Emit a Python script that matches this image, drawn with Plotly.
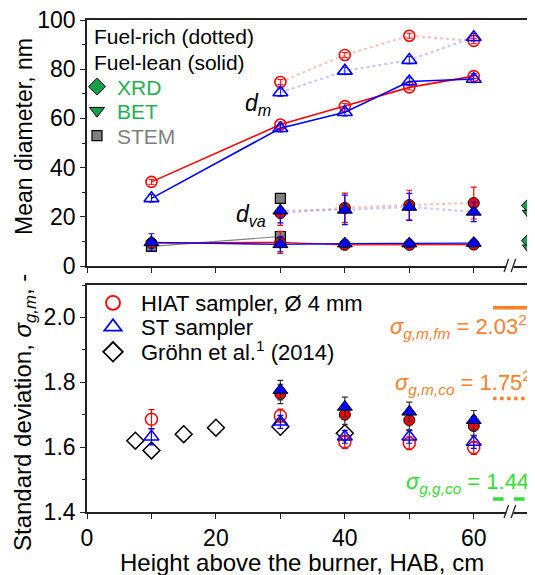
import plotly.graph_objects as go

# ---------------- data ----------------
hab = [10, 30, 40, 50, 60]
hab_rich = [30, 40, 50, 60]

# mean diameter (nm), fuel-lean (solid lines)
dm_lean_hiat = [34.2, 57.5, 65.0, 72.6, 77.2]
dm_lean_st = [27.5, 56.0, 62.5, 75.0, 76.0]
dva_lean_hiat = [9.3, 9.6, 8.6, 8.6, 8.7]
dva_lean_st = [9.6, 8.8, 9.1, 9.1, 9.3]
dva_lean_hiat_err = [1.5, 4.5, 1.5, 1.5, 1.5]
dva_lean_st_err = [3.5, 3.0, 1.5, 1.5, 1.5]

# mean diameter (nm), fuel-rich (dotted lines)
dm_rich_hiat = [74.8, 85.8, 93.6, 91.5]
dm_rich_st = [70.5, 79.3, 83.7, 93.0]
dva_rich_hiat = [21.5, 23.6, 24.8, 25.6]
dva_rich_st = [22.5, 22.8, 24.0, 22.0]
dva_rich_hiat_err = [5.0, 6.0, 6.0, 6.5]
dva_rich_st_err = [5.0, 6.0, 5.5, 4.0]

# STEM
stem_lean_x = [10, 30]
stem_lean = [8.0, 12.0]
stem_rich_x = [30]
stem_rich = [27.5]

# XRD / BET (shown beyond the axis break)
xrd_x = [68.7, 68.7]
xrd = [24.6, 10.3]
bet = [21.3, 7.2]

# geometric standard deviation
sg_hiat = [1.686, 1.697, 1.616, 1.612, 1.598]
sg_hiat_err = [0.03, 0.02, 0.02, 0.02, 0.02]
sg_st = [1.632, 1.678, 1.632, 1.632, 1.616]
sg_st_err = [0.025, 0.02, 0.02, 0.02, 0.02]
sg_hiat_f = [1.764, 1.700, 1.683, 1.665]
sg_st_f = [1.776, 1.724, 1.709, 1.683]
sg_f_err = [0.03, 0.03, 0.03, 0.03]
grohn_x = [7.5, 10, 15, 20, 30, 40]
grohn = [1.620, 1.590, 1.640, 1.660, 1.663, 1.643]

# reference values
ref_x = [63.0, 69.5]
sg_m_fm = 2.03
sg_m_co = 1.75
sg_g_co = 1.44

# tick labels
x_ticks = [0, 20, 40, 60]
top_ticks = [0, 20, 40, 60, 80, 100]
bot_ticks = [1.4, 1.6, 1.8, 2.0]

# ---------------- style ----------------
FONT = "Liberation Sans, Arial, sans-serif"
RED = "#ff0000"
BLUE = "#0000ff"
RED_DOT = "rgba(255,90,90,0.40)"
BLUE_DOT = "rgba(90,90,255,0.35)"
ORANGE = "#ff7f27"
LIME = "#33dd33"
GREEN_TXT = "#1db34f"
GREEN_MK = "#17a04b"
GREY = "#808080"
AX = "#222222"

# the page body has an 8 px margin, so the figure is 8 px smaller in each direction
OFF = 8
W, H = 535 - OFF, 575 - OFF
def PX(p):
    return (p - OFF) / W
def PY(p):
    return 1 - (p - OFF) / H

X_RANGE = [0, 69.5]
BREAK_X = 65.6

fig = go.Figure()

def add(tr):
    fig.add_trace(tr)

# ---- top panel ----
add(go.Scatter(x=hab_rich, y=dm_rich_hiat, mode="lines+markers", xaxis="x", yaxis="y",
               line=dict(color=RED_DOT, width=2, dash="dot"),
               marker=dict(symbol="circle-open", size=11, color=RED, line=dict(width=1.6)),
               error_y=dict(type="constant", value=1.0, color=RED, thickness=1, width=3),
               showlegend=False))
add(go.Scatter(x=hab_rich, y=dm_rich_st, mode="lines+markers", xaxis="x", yaxis="y",
               line=dict(color=BLUE_DOT, width=2, dash="dot"),
               marker=dict(symbol="triangle-up-open", size=13, color=BLUE, line=dict(width=1.6)),
               error_y=dict(type="constant", value=1.5, color=BLUE, thickness=1, width=3),
               showlegend=False))
add(go.Scatter(x=hab, y=dm_lean_hiat, mode="lines+markers", xaxis="x", yaxis="y",
               line=dict(color=RED, width=1.6),
               marker=dict(symbol="circle-open", size=11, color=RED, line=dict(width=1.6)),
               error_y=dict(type="constant", value=1.0, color=RED, thickness=1, width=3),
               showlegend=False))
add(go.Scatter(x=hab, y=dm_lean_st, mode="lines+markers", xaxis="x", yaxis="y",
               line=dict(color=BLUE, width=1.6),
               marker=dict(symbol="triangle-up-open", size=13, color=BLUE, line=dict(width=1.6)),
               error_y=dict(type="constant", value=1.5, color=BLUE, thickness=1, width=3),
               showlegend=False))
add(go.Scatter(x=stem_lean_x, y=stem_lean, mode="lines+markers", xaxis="x", yaxis="y",
               line=dict(color=GREY, width=1.2),
               marker=dict(symbol="square", size=10, color=GREY, line=dict(color="black", width=1.2)),
               showlegend=False))
add(go.Scatter(x=hab_rich, y=dva_rich_hiat, mode="lines+markers", xaxis="x", yaxis="y",
               line=dict(color=RED_DOT, width=2, dash="dot"),
               marker=dict(symbol="circle", size=11, color=RED, line=dict(color="black", width=1)),
               error_y=dict(type="data", array=dva_rich_hiat_err, color=RED, thickness=1.2, width=3),
               showlegend=False))
add(go.Scatter(x=hab_rich, y=dva_rich_st, mode="lines+markers", xaxis="x", yaxis="y",
               line=dict(color=BLUE_DOT, width=2, dash="dot"),
               marker=dict(symbol="triangle-up", size=13, color=BLUE, line=dict(color="black", width=1)),
               error_y=dict(type="data", array=dva_rich_st_err, color=BLUE, thickness=1.2, width=3),
               showlegend=False))
add(go.Scatter(x=hab, y=dva_lean_hiat, mode="lines+markers", xaxis="x", yaxis="y",
               line=dict(color=RED, width=1.4),
               marker=dict(symbol="circle", size=11, color=RED, line=dict(color="black", width=1)),
               error_y=dict(type="data", array=dva_lean_hiat_err, color=RED, thickness=1.2, width=3),
               showlegend=False))
add(go.Scatter(x=hab, y=dva_lean_st, mode="lines+markers", xaxis="x", yaxis="y",
               line=dict(color=BLUE, width=1.4),
               marker=dict(symbol="triangle-up", size=13, color=BLUE, line=dict(color="black", width=1)),
               error_y=dict(type="data", array=dva_lean_st_err, color=BLUE, thickness=1.2, width=3),
               showlegend=False))
add(go.Scatter(x=xrd_x, y=xrd, mode="markers", xaxis="x", yaxis="y", legend="legend",
               name='<span style="color:%s">XRD</span>' % GREEN_TXT,
               marker=dict(symbol="diamond", size=13, color=GREEN_MK, line=dict(color="black", width=1))))
add(go.Scatter(x=xrd_x, y=bet, mode="markers", xaxis="x", yaxis="y", legend="legend2",
               name='<span style="color:%s">BET</span>' % GREEN_TXT,
               marker=dict(symbol="triangle-down", size=13, color=GREEN_MK, line=dict(color="black", width=1))))
add(go.Scatter(x=stem_rich_x, y=stem_rich, mode="markers", xaxis="x", yaxis="y", legend="legend3",
               name='<span style="color:%s">STEM</span>' % GREY,
               marker=dict(symbol="square", size=10, color=GREY, line=dict(color="black", width=1.2))))

# ---- bottom panel ----
add(go.Scatter(x=grohn_x, y=grohn, mode="markers", xaxis="x2", yaxis="y2", showlegend=False,
               marker=dict(symbol="diamond-open", size=13, color="black", line=dict(width=1.5))))
add(go.Scatter(x=hab, y=sg_hiat, mode="markers", xaxis="x2", yaxis="y2", showlegend=False,
               marker=dict(symbol="circle-open", size=12, color=RED, line=dict(width=1.5)),
               error_y=dict(type="data", array=sg_hiat_err, color=RED, thickness=1.2, width=3)))
add(go.Scatter(x=hab, y=sg_st, mode="markers", xaxis="x2", yaxis="y2", showlegend=False,
               marker=dict(symbol="triangle-up-open", size=13, color=BLUE, line=dict(width=1.5)),
               error_y=dict(type="data", array=sg_st_err, color=BLUE, thickness=1.2, width=3)))
add(go.Scatter(x=hab_rich, y=sg_hiat_f, mode="markers", xaxis="x2", yaxis="y2", showlegend=False,
               marker=dict(symbol="circle", size=11, color=RED, line=dict(color="black", width=1)),
               error_y=dict(type="data", array=sg_f_err, color="#333333", thickness=1.2, width=3)))
add(go.Scatter(x=hab_rich, y=sg_st_f, mode="markers", xaxis="x2", yaxis="y2", showlegend=False,
               marker=dict(symbol="triangle-up", size=13, color=BLUE, line=dict(color="black", width=1)),
               error_y=dict(type="data", array=sg_f_err, color="#333333", thickness=1.2, width=3)))
add(go.Scatter(x=ref_x, y=[sg_m_fm] * 2, mode="lines", xaxis="x2", yaxis="y2", showlegend=False,
               line=dict(color=ORANGE, width=3.5)))
add(go.Scatter(x=ref_x, y=[sg_m_co] * 2, mode="lines", xaxis="x2", yaxis="y2", showlegend=False,
               line=dict(color=ORANGE, width=3.5, dash="dot")))
add(go.Scatter(x=ref_x, y=[sg_g_co] * 2, mode="lines", xaxis="x2", yaxis="y2", showlegend=False,
               line=dict(color=LIME, width=3.5, dash="dash")))
add(go.Scatter(x=[None], y=[None], mode="markers", xaxis="x2", yaxis="y2", legend="legend4",
               name="HIAT sampler, Ø 4 mm",
               marker=dict(symbol="circle-open", size=14, color=RED, line=dict(width=1.8))))
add(go.Scatter(x=[None], y=[None], mode="markers", xaxis="x2", yaxis="y2", legend="legend5",
               name="ST sampler",
               marker=dict(symbol="triangle-up-open", size=15, color=BLUE, line=dict(width=1.8))))
add(go.Scatter(x=[None], y=[None], mode="markers", xaxis="x2", yaxis="y2", legend="legend6",
               name="Gröhn et al.<sup>1</sup> (2014)",
               marker=dict(symbol="diamond-open", size=15, color="black", line=dict(width=1.8))))

# ---------------- axes ----------------
TICKF = dict(family=FONT, size=23, color="black")
xcommon = dict(range=X_RANGE, showline=True, linecolor=AX, linewidth=1.6, mirror=True,
               ticks="outside", ticklen=5, tickwidth=1.3, tickcolor=AX, automargin=False,
               tickvals=x_ticks, showgrid=False, zeroline=False, tickfont=TICKF,
               ticklabeloverflow="allow",
               minor=dict(dtick=10, ticks="outside", ticklen=5, tickwidth=1.3, tickcolor=AX, showgrid=False))
ycommon = dict(showline=True, linecolor=AX, linewidth=1.6, mirror=False, automargin=False,
               ticks="outside", ticklen=5, tickwidth=1.3, tickcolor=AX, ticklabeloverflow="allow",
               showgrid=False, zeroline=False, tickfont=TICKF)

top_dom = [PY(266), PY(20)]
bot_dom = [PY(512), PY(285)]
xdom = [PX(87), 1.0]

def LEG(xp, yp, size, width):
    return dict(x=PX(xp), y=PY(yp), xanchor="left", yanchor="middle",
                font=dict(family=FONT, size=size, color="black"), bgcolor="rgba(0,0,0,0)",
                itemwidth=width, tracegroupgap=0)

fig.update_layout(
    width=W, height=H, margin=dict(l=0, r=0, t=0, b=0, autoexpand=False),
    paper_bgcolor="white", plot_bgcolor="white",
    font=dict(family=FONT, color="black"),
    xaxis=dict(domain=xdom, anchor="y", showticklabels=False, **xcommon),
    yaxis=dict(domain=top_dom, anchor="x", range=[0, 100], tickvals=top_ticks,
               minor=dict(dtick=10, ticks="outside", ticklen=3, tickwidth=1.2, tickcolor=AX, showgrid=False),
               **ycommon),
    xaxis2=dict(domain=xdom, anchor="y2", **xcommon),
    yaxis2=dict(domain=bot_dom, anchor="x2", range=[1.4, 2.1], tickvals=bot_ticks,
                tickformat=".1f",
                minor=dict(dtick=0.1, ticks="outside", ticklen=3, tickwidth=1.2, tickcolor=AX, showgrid=False),
                **ycommon),
    legend=LEG(77, 87, 21, 30),
    legend2=LEG(77, 111, 21, 30),
    legend3=LEG(77, 136, 21, 30),
    legend4=LEG(85, 303, 22, 46),
    legend5=LEG(85, 327, 22, 46),
    legend6=LEG(85, 352, 22, 46),
)

# ---------------- annotations ----------------
ann = []
def A(text, x, y, xref="paper", yref="paper", size=21, color="black", xanchor="center",
      yanchor="middle", angle=0):
    ann.append(dict(text=text, x=x, y=y, xref=xref, yref=yref, showarrow=False,
                    font=dict(family=FONT, size=size, color=color),
                    xanchor=xanchor, yanchor=yanchor, textangle=angle))

A("Fuel-rich (dotted)", PX(92), PY(37), xanchor="left")
A("Fuel-lean (solid)", PX(92), PY(62), xanchor="left")
A("<i>d</i><sub><i>m</i></sub>", 26.6, 65.5, xref="x", yref="y", size=23)
A("<i>d</i><sub><i>va</i></sub>", 25.4, 20.5, xref="x", yref="y", size=23)
A("<i>σ</i><sub><i>g,m,fm</i></sub> = 2.03<sup>2</sup>", PX(529), PY(326), size=22,
  color=ORANGE, xanchor="right")
A("<i>σ</i><sub><i>g,m,co</i></sub> = 1.75<sup>2</sup>", PX(533), PY(382), size=22,
  color=ORANGE, xanchor="right")
A("<i>σ</i><sub><i>g,g,co</i></sub> = 1.44", PX(531), PY(483), size=22,
  color=LIME, xanchor="right")
A("Mean diameter, nm", PX(24), PY(137), size=23, angle=-90)
A("Standard deviation, <i>σ</i><sub><i>g,m</i></sub>, -", PX(24), PY(413), size=24, angle=-90)
A("Height above the burner, HAB, cm", PX(302), PY(562), size=24)
fig.update_layout(annotations=ann)

# ---------------- axis-break marks ----------------
shapes = []
for xr, ypix in (("x", 266), ("x2", 512)):
    shapes.append(dict(type="rect", xref=xr, yref="paper", x0=BREAK_X - 0.55, x1=BREAK_X + 0.55,
                       y0=PY(ypix + 2), y1=PY(ypix - 2), fillcolor="white", line=dict(width=0),
                       layer="above"))
    for dx in (-0.55, 0.55):
        shapes.append(dict(type="line", xref=xr, yref="paper",
                           x0=BREAK_X + dx - 0.35, x1=BREAK_X + dx + 0.35,
                           y0=PY(ypix + 6), y1=PY(ypix - 7),
                           line=dict(color=AX, width=1.3), layer="above"))
fig.update_layout(shapes=shapes)

fig.write_html("out.html")
